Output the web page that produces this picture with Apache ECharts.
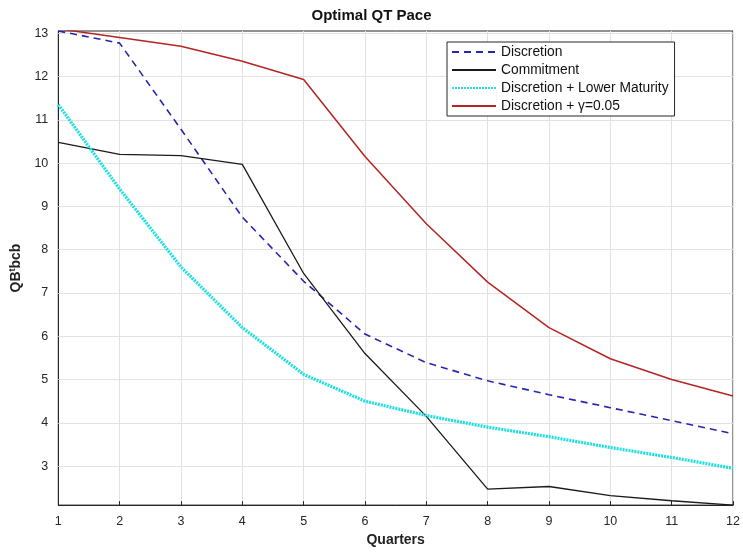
<!DOCTYPE html>
<html><head><meta charset="utf-8">
<script src="https://cdn.jsdelivr.net/npm/echarts@6/dist/echarts.min.js"></script>
<style>html,body{margin:0;padding:0;background:#fff}#c{width:743px;height:552px}</style>
</head><body><div id="c"></div>
<script>
const quarters = [1,2,3,4,5,6,7,8,9,10,11,12];
const discretion = [13.05,12.77,10.78,8.75,7.27,6.05,5.39,4.97,4.65,4.35,4.05,3.75];
const commitment = [10.48,10.2,10.17,9.97,7.45,5.6,4.15,2.47,2.53,2.32,2.2,2.1];
const lowerMaturity = [11.35,9.4,7.6,6.2,5.12,4.5,4.17,3.9,3.68,3.43,3.2,2.95];
const gamma = [13.1,12.9,12.7,12.35,11.93,10.15,8.6,7.25,6.2,5.48,5.0,4.62];
const seriesNames = ['Discretion','Commitment','Discretion + Lower Maturity','Discretion + \u03b3=0.05'];
const yTicks = [3,4,5,6,7,8,9,10,11,12,13];

const pair = arr => quarters.map((q,i)=>[q,arr[i]]);
const chart = echarts.init(document.getElementById('c'));
const axisTxt = {color:'#262626', fontFamily:'Liberation Sans, Arial', fontSize:12.5};
chart.setOption({
  animation:false,
  backgroundColor:'#fff',
  title:{text:'Optimal QT Pace', left:'center', top:3,
    textStyle:{fontFamily:'Liberation Sans, Arial', fontWeight:'bold', fontSize:15, color:'#111'}},
  grid:{left:56, right:10, top:31, bottom:44, show:true, borderColor:'#262626', borderWidth:1},
  legend:{orient:'vertical', left:447, top:42, backgroundColor:'#fff', borderColor:'#262626', borderWidth:1,
    padding:[3,6,3,4], itemGap:4, itemWidth:44, itemHeight:13,
    itemStyle:{opacity:0},
    textStyle:{fontFamily:'Liberation Sans, Arial', fontSize:13.8, color:'#111'},
    data:seriesNames},
  xAxis:{type:'value', min:1, max:12, interval:1, name:'Quarters', nameLocation:'middle', nameGap:27,
    nameTextStyle:{fontFamily:'Liberation Sans, Arial', fontWeight:'bold', fontSize:14, color:'#222'},
    axisLine:{lineStyle:{color:'#262626'}}, axisTick:{inside:true, length:4, lineStyle:{color:'#262626'}},
    axisLabel:Object.assign({margin:10}, axisTxt),
    splitLine:{show:true, lineStyle:{color:'#e2e2e2', width:1}}},
  yAxis:{type:'value', min:2.1, max:13.05, name:'QB{sup|t}bcb', nameLocation:'middle', nameGap:30, nameRotate:90,
    nameTextStyle:{fontFamily:'Liberation Sans, Arial', fontWeight:'bold', fontSize:14, color:'#222',
      rich:{sup:{fontSize:9, fontWeight:'bold', verticalAlign:'top', padding:[0,0,8,0], color:'#222'}}},
    axisLine:{show:true, lineStyle:{color:'#262626'}},
    axisLabel:Object.assign({margin:10, customValues:yTicks}, axisTxt),
    axisTick:{inside:true, length:4, customValues:yTicks, lineStyle:{color:'#262626'}},
    splitLine:{show:false}},
  series:[
    {type:'line', data:yTicks.map(v=>[1,v]), symbol:'none', lineStyle:{width:0}, silent:true, z:1,
     markLine:{silent:true, symbol:'none', label:{show:false}, z:1,
       lineStyle:{color:'#e2e2e2', type:'solid', width:1},
       data:yTicks.map(v=>({yAxis:v}))}},
    {name:seriesNames[0], type:'line', data:pair(discretion), symbol:'none', z:3,
     lineStyle:{color:'#2626b0', width:1.6, type:[7,5]}, itemStyle:{color:'#2626b0'}},
    {name:seriesNames[1], type:'line', data:pair(commitment), symbol:'none', z:3,
     lineStyle:{color:'#1a1a1a', width:1.3}, itemStyle:{color:'#1a1a1a'}},
    {name:seriesNames[2], type:'line', data:pair(lowerMaturity), symbol:'none', z:4,
     lineStyle:{color:'#1ee0e0', width:3.2, type:[2,1]}, itemStyle:{color:'#1ee0e0'}},
    {name:seriesNames[3], type:'line', data:pair(gamma), symbol:'none', z:5,
     lineStyle:{color:'#b52323', width:1.5}, itemStyle:{color:'#b52323'}}
  ]
});
</script></body></html>
